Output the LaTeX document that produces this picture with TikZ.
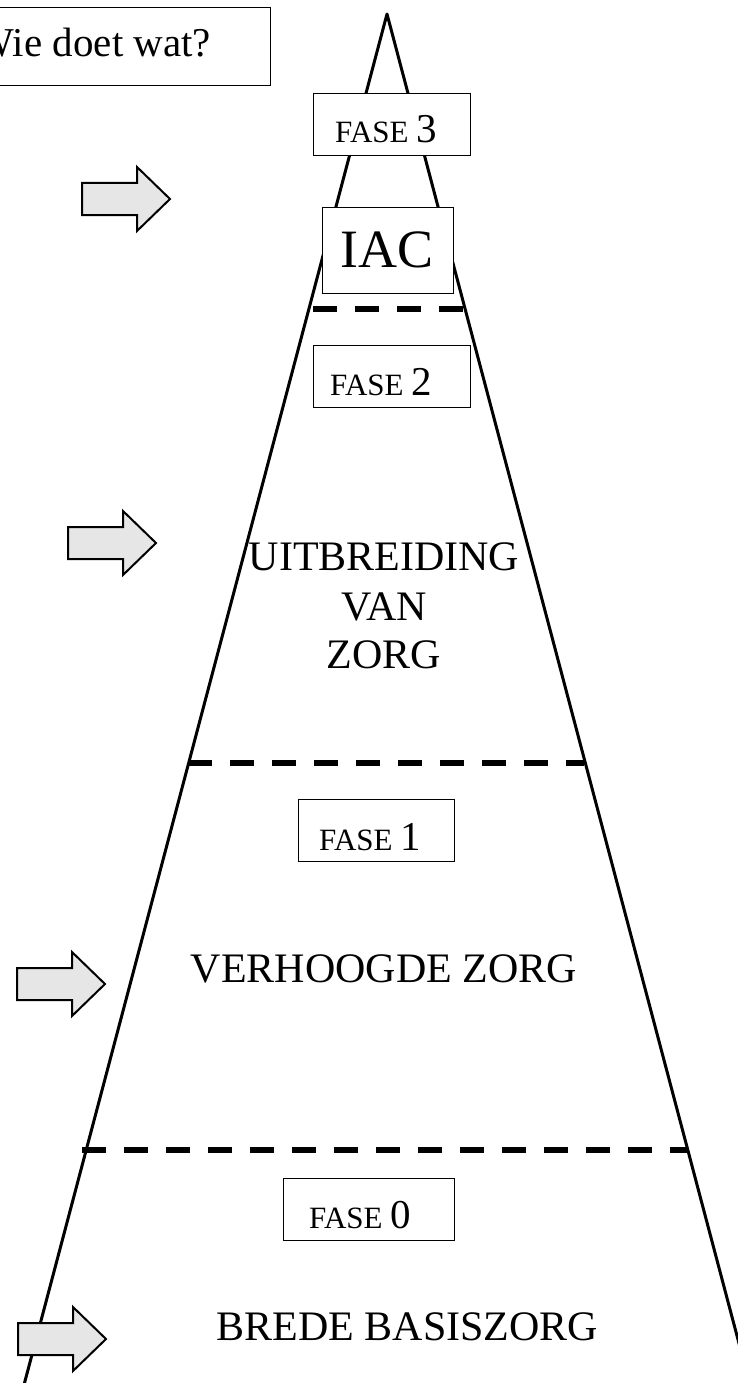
\documentclass[tikz,border=0pt]{standalone}
\usepackage{fontspec}
\setmainfont{Liberation Serif}
\definecolor{arrowgray}{HTML}{E6E6E6}
\newcommand{\fasetext}[1]{{\fontsize{31}{31}\selectfont FASE }{\fontsize{41}{41}\selectfont #1}}
\begin{document}
\begin{tikzpicture}[x=1pt,y=-1pt,
  tri/.style={line width=3pt, line join=round},
  sep/.style={line width=5.5pt, dash pattern=on 24pt off 18pt},
  box/.style={draw, line width=1.3pt, fill=white, inner sep=0pt, anchor=north west},
  lbl/.style={inner sep=0pt, anchor=base},
  fatarrow/.style={draw, line width=2pt, fill=arrowgray, line join=miter},
  fatarr/.pic={\draw[fatarrow] (0,-16) -- (55,-16) -- (55,-32) -- (88,0) -- (55,32) -- (55,16) -- (0,16) -- cycle;}
]
\useasboundingbox (0,0) rectangle (738,1383);
\clip (0,0) rectangle (738,1383);

% pyramid
\coordinate (apex) at (387,14);
\coordinate (bl) at (20,1400);
\coordinate (br) at (754,1400);
\draw[tri] (bl) -- (apex) -- (br);

% separators
\coordinate (d1l) at (313,309); \coordinate (d1r) at (463,309);
\coordinate (d2l) at (188,763); \coordinate (d2r) at (584,763);
\coordinate (d3l) at (82,1150); \coordinate (d3r) at (687,1150);
\draw[sep] (d1l) -- (d1r);
\draw[sep] (d2l) -- (d2r);
\draw[sep] (d3l) -- (d3r);

% title
\node[box, minimum width=353pt, minimum height=78pt] (titlebox) at (-83,7) {};
\node[lbl] (title) at (93.5,57) {\fontsize{41}{41}\selectfont Wie doet wat?};

% boxes
\node[box, minimum width=157pt, minimum height=62pt] (f3box) at (313,93) {};
\node[lbl] (f3) at (386,143) {\fasetext{3}};
\node[box, minimum width=131pt, minimum height=86pt] (iacbox) at (322,207) {};
\node[lbl] (iac) at (387,267) {\fontsize{54}{54}\selectfont IAC};
\node[box, minimum width=157pt, minimum height=62pt] (f2box) at (313,345) {};
\node[lbl] (f2) at (381,395) {\fasetext{2}};
\node[box, minimum width=156pt, minimum height=62pt] (f1box) at (298,799) {};
\node[lbl] (f1) at (370,850) {\fasetext{1}};
\node[box, minimum width=171pt, minimum height=62pt] (f0box) at (283,1178) {};
\node[lbl] (f0) at (360,1228) {\fasetext{0}};

% level texts
\node[lbl] (u1) at (384,570) {\fontsize{42}{42}\selectfont UITBREIDING};
\node[lbl] (u2) at (384,620) {\fontsize{42}{42}\selectfont VAN};
\node[lbl] (u3) at (384,668) {\fontsize{42}{42}\selectfont ZORG};
\node[lbl] (vz) at (384,982) {\fontsize{42}{42}\selectfont VERHOOGDE ZORG};
\node[lbl] (bb) at (407.5,1340) {\fontsize{42}{42}\selectfont BREDE BASISZORG};

% arrows
\pic at (82,199) {fatarr};
\pic at (68,543) {fatarr};
\pic at (17,984) {fatarr};
\pic at (18,1339) {fatarr};
\end{tikzpicture}
\end{document}
